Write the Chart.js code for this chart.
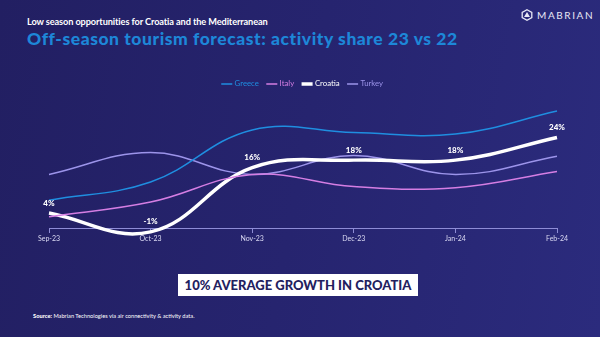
<!DOCTYPE html>
<html>
<head>
<meta charset="utf-8">
<script src="https://cdn.jsdelivr.net/npm/chart.js@4.4.0/dist/chart.umd.min.js"></script>
<style>
  html, body { margin:0; padding:0; }
  body { width:600px; height:337px; overflow:hidden; position:relative;
    background: linear-gradient(100deg, #221f62 0%, #26246f 50%, #2b2b7d 100%);
    font-family: Lato, "Open Sans", sans-serif; }
  #sub { position:absolute; left:27px; top:16px; color:#fff; font-weight:700; font-size:9.2px; letter-spacing:-0.1px; }
  #title { position:absolute; left:27px; top:28px; color:#1d87d8; font-weight:900; font-size:17.5px; letter-spacing:0.55px; white-space:nowrap; }
  #logo { position:absolute; left:521px; top:9px; color:#e8e8f5; font-size:10px; letter-spacing:1.6px; display:flex; align-items:center; }
  #logo svg { margin-right:4px; }
  #wrap { position:absolute; left:0; top:71px; width:600px; height:190px; }
  #box { position:absolute; left:178px; top:274px; width:240px; height:22px; background:#fff; color:#23215f;
    font-weight:900; font-size:13px; text-align:center; line-height:22px; }
  #src { position:absolute; left:33px; top:312px; color:#fff; font-size:5.7px; }
  #src b { font-weight:900; }
</style>
</head>
<body>
<div id="sub">Low season opportunities for Croatia and the Mediterranean</div>
<div id="title">Off-season tourism forecast: activity share 23 vs 22</div>
<div id="logo"><svg width="12" height="12" viewBox="0 0 12 12"><polygon points="6,0.8 10.8,3.5 10.8,8.5 6,11.2 1.2,8.5 1.2,3.5" fill="none" stroke="#e8e8f5" stroke-width="1.3"/><polygon points="6,3 9,8 3,8" fill="#e8e8f5"/></svg>MABRIAN</div>
<div id="wrap"><canvas id="c"></canvas></div>
<div id="box">10% AVERAGE GROWTH IN CROATIA</div>
<div id="src"><b>Source:</b> Mabrian Technologies via air connectivity &amp; activity data.</div>
<script>
const categories = ["Sep-23", "Oct-23", "Nov-23", "Dec-23", "Jan-24", "Feb-24"];
const greece  = [7.4, 12.2, 26, 25.3, 24.9, 31];
const italy   = [3, 6.9, 14.2, 11, 10.7, 15];
const croatia = [4, -1, 16, 18, 18, 24];
const turkey  = [14.2, 20, 14.2, 19.2, 14.2, 19];
const croatiaLabels = ["4%", "-1%", "16%", "18%", "18%", "24%"];

const labelPlugin = {
  id: 'croLabels',
  afterDatasetsDraw(chart) {
    const meta = chart.getDatasetMeta(2);
    const ctx = chart.ctx;
    ctx.save();
    ctx.fillStyle = '#ffffff';
    ctx.font = '900 8px Lato, sans-serif';
    ctx.textAlign = 'center';
    ctx.textBaseline = 'bottom';
    meta.data.forEach((pt, i) => {
      ctx.fillText(croatiaLabels[i], pt.x, pt.y - 6);
    });
    ctx.restore();
  }
};

new Chart(document.getElementById('c'), {
  type: 'line',
  data: {
    labels: categories,
    datasets: [
      { label: 'Greece', data: greece, borderColor: '#1f8ee0', backgroundColor: '#1f8ee0', borderWidth: 1.5, tension: 0.4, pointRadius: 0 },
      { label: 'Italy', data: italy, borderColor: '#d57ee3', backgroundColor: '#d57ee3', borderWidth: 1.5, tension: 0.4, pointRadius: 0 },
      { label: 'Croatia', data: croatia, borderColor: '#ffffff', backgroundColor: '#ffffff', borderWidth: 3.5, tension: 0.4, pointRadius: 0 },
      { label: 'Turkey', data: turkey, borderColor: '#9c94ea', backgroundColor: '#9c94ea', borderWidth: 1.5, tension: 0.4, pointRadius: 0 }
    ]
  },
  plugins: [labelPlugin],
  options: {
    responsive: true,
    maintainAspectRatio: false,
    animation: false,
    layout: { padding: { left: 49, right: 43, top: 0, bottom: 14 } },
    plugins: {
      legend: {
        position: 'top',
        labels: {
          usePointStyle: true,
          pointStyle: 'line',
          boxWidth: 13,
          boxHeight: 8,
          padding: 9,
          font: { size: 7.8, family: 'Lato, sans-serif' },
          generateLabels(chart) {
            return chart.data.datasets.map((ds, i) => ({
              text: ds.label,
              fillStyle: ds.borderColor,
              strokeStyle: ds.borderColor,
              fontColor: ds.borderColor,
              lineWidth: ds.borderWidth,
              pointStyle: 'line',
              hidden: false,
              datasetIndex: i
            }));
          }
        }
      },
      tooltip: { enabled: false }
    },
    scales: {
      x: {
        position: { y: 0 },
        grid: { display: true, drawOnChartArea: false, drawTicks: true, tickLength: 4, color: '#8e8cd6' },
        border: { display: true, color: '#8e8cd6', width: 1 },
        ticks: { color: '#d9d8f2', font: { size: 7, family: 'Lato, sans-serif' }, padding: 2, maxRotation: 0 }
      },
      y: {
        display: false,
        min: -5,
        max: 34.5
      }
    }
  }
});
</script>
</body>
</html>
